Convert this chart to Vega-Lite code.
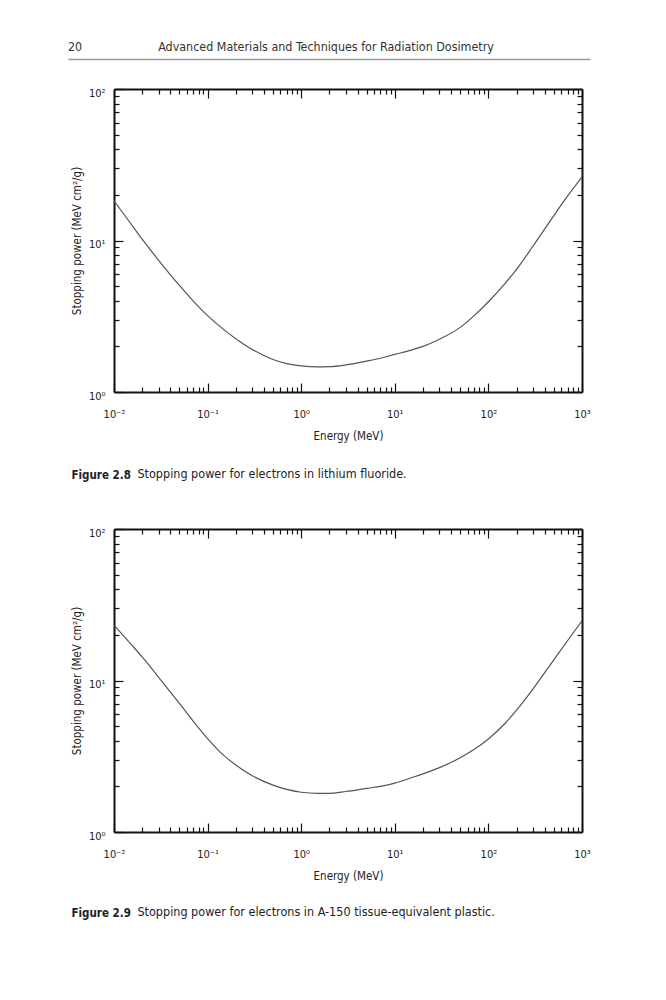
{
  "$schema": "https://vega.github.io/schema/vega-lite/v6.json",
  "padding": {"left": 68, "top": 41, "right": 5, "bottom": 5},
  "config": {
    "view": {"stroke": null},
    "font": "Liberation Sans Narrow, DejaVu Sans Condensed, Liberation Sans, sans-serif",
    "axis": {
      "grid": false,
      "domainColor": "#111",
      "domainWidth": 2,
      "tickColor": "#111",
      "tickWidth": 1.2,
      "labelFont": "Liberation Sans Narrow, DejaVu Sans Condensed, Liberation Sans, sans-serif",
      "labelFontSize": 11,
      "labelColor": "#222",
      "titleFont": "Liberation Sans Narrow, DejaVu Sans Condensed, Liberation Sans, sans-serif",
      "titleFontSize": 11.5,
      "titleFontWeight": "normal",
      "titleColor": "#222"
    },
    "title": {"font": "Liberation Sans Narrow, DejaVu Sans Condensed, Liberation Sans, sans-serif", "color": "#222", "fontSize": 12.5}
  },
  "datasets": {
    "header": [
      {"slot": "page", "text": "20"},
      {"slot": "running", "text": "Advanced Materials and Techniques for Radiation Dosimetry"}
    ],
    "lif": [
      {"E": 0.01, "S": 18.3}, {"E": 0.015, "S": 13.0}, {"E": 0.02, "S": 10.2}, {"E": 0.03, "S": 7.40},
      {"E": 0.05, "S": 5.05}, {"E": 0.07, "S": 4.00}, {"E": 0.1, "S": 3.19}, {"E": 0.15, "S": 2.57},
      {"E": 0.2, "S": 2.25}, {"E": 0.3, "S": 1.91}, {"E": 0.5, "S": 1.64}, {"E": 0.7, "S": 1.54},
      {"E": 1, "S": 1.486}, {"E": 1.5, "S": 1.466}, {"E": 2, "S": 1.47}, {"E": 3, "S": 1.51},
      {"E": 5, "S": 1.60}, {"E": 7, "S": 1.67}, {"E": 10, "S": 1.77}, {"E": 15, "S": 1.89},
      {"E": 20, "S": 2.00}, {"E": 30, "S": 2.23}, {"E": 50, "S": 2.67}, {"E": 70, "S": 3.18},
      {"E": 100, "S": 3.94}, {"E": 150, "S": 5.20}, {"E": 200, "S": 6.45}, {"E": 300, "S": 9.20},
      {"E": 500, "S": 14.6}, {"E": 700, "S": 19.6}, {"E": 1000, "S": 26.2}
    ],
    "a150": [
      {"E": 0.01, "S": 23.2}, {"E": 0.015, "S": 17.5}, {"E": 0.02, "S": 14.3}, {"E": 0.03, "S": 10.5},
      {"E": 0.05, "S": 7.06}, {"E": 0.07, "S": 5.40}, {"E": 0.1, "S": 4.14}, {"E": 0.15, "S": 3.19},
      {"E": 0.2, "S": 2.77}, {"E": 0.3, "S": 2.35}, {"E": 0.5, "S": 2.04}, {"E": 0.7, "S": 1.91},
      {"E": 1, "S": 1.83}, {"E": 1.5, "S": 1.80}, {"E": 2, "S": 1.80}, {"E": 3, "S": 1.85},
      {"E": 5, "S": 1.94}, {"E": 7, "S": 2.00}, {"E": 10, "S": 2.10}, {"E": 15, "S": 2.28},
      {"E": 20, "S": 2.42}, {"E": 30, "S": 2.66}, {"E": 50, "S": 3.09}, {"E": 70, "S": 3.50},
      {"E": 100, "S": 4.11}, {"E": 150, "S": 5.20}, {"E": 200, "S": 6.37}, {"E": 300, "S": 8.81},
      {"E": 500, "S": 13.7}, {"E": 700, "S": 18.3}, {"E": 1000, "S": 24.8}
    ]
  },
  "spacing": 28,
  "vconcat": [
    {
      "data": {"name": "header"},
      "width": 468,
      "height": 16,
      "layer": [
        {
          "transform": [{"filter": "datum.slot == 'page'"}],
          "mark": {"type": "text", "align": "left", "baseline": "alphabetic", "fontSize": 12.4, "color": "#333"},
          "encoding": {
            "x": {"field": "slot", "type": "nominal", "scale": {"type": "point", "domain": ["page", "running", "end"], "padding": 0, "range": [-46, 476]},
                  "axis": {"orient": "bottom", "labels": false, "ticks": false, "title": null, "domainColor": "#999", "domainWidth": 1.5}},
            "text": {"field": "text"}
          }
        },
        {
          "transform": [{"filter": "datum.slot == 'running'"}],
          "mark": {"type": "text", "align": "center", "baseline": "alphabetic", "fontSize": 12.4, "color": "#333", "dx": -3},
          "encoding": {
            "x": {"field": "slot", "type": "nominal", "scale": {"type": "point", "domain": ["page", "running", "end"], "padding": 0, "range": [-46, 476]},
                  "axis": {"orient": "bottom", "labels": false, "ticks": false, "title": null, "domainColor": "#999", "domainWidth": 1.5}},
            "text": {"field": "text"}
          }
        }
      ]
    },
    {
      "spacing": 46,
      "vconcat": [
        {
          "title": {"text": "Stopping power for electrons in lithium fluoride.", "orient": "bottom", "anchor": "start", "fontWeight": "normal", "offset": 0, "dx": 66, "dy": -13},
          "vconcat": [
            {
              "data": {"name": "lif"},
              "width": 468,
              "height": 303,
              "title": {"text": "Figure 2.8", "orient": "bottom", "anchor": "start", "fontWeight": "bold", "fontSize": 11.5, "offset": 28},
              "resolve": {"axis": {"x": "independent", "y": "independent"}},
              "layer": [
                {
                  "mark": {"type": "line", "color": "#555", "strokeWidth": 1.2, "interpolate": "monotone", "clip": true},
                  "encoding": {
                    "x": {"field": "E", "type": "quantitative", "scale": {"type": "log", "domain": [0.01, 1000], "nice": false},
                          "axis": {"orient": "bottom", "values": [0.01,0.02,0.03,0.04,0.05,0.06,0.07,0.08,0.09,0.1,0.2,0.3,0.4,0.5,0.6,0.7,0.8,0.9,1,2,3,4,5,6,7,8,9,10,20,30,40,50,60,70,80,90,100,200,300,400,500,600,700,800,900,1000],
                                   "tickSize": {"condition": {"test": "datum.value==0.01||datum.value==0.1||datum.value==1||datum.value==10||datum.value==100||datum.value==1000", "value": -9}, "value": -5},
                                   "labelExpr": "datum.value==0.01?'10⁻²':datum.value==0.1?'10⁻¹':datum.value==1?'10⁰':datum.value==10?'10¹':datum.value==100?'10²':datum.value==1000?'10³':''",
                                   "labelPadding": 25, "labelFlush": false, "labelOverlap": false, "labelBaseline": "top",
                                   "title": "Energy (MeV)", "titlePadding": 7}},
                    "y": {"field": "S", "type": "quantitative", "scale": {"type": "log", "domain": [1, 100], "nice": false},
                          "axis": {"orient": "left", "values": [1,2,3,4,5,6,7,8,9,10,20,30,40,50,60,70,80,90,100],
                                   "tickSize": {"condition": {"test": "datum.value==1||datum.value==10||datum.value==100", "value": -9}, "value": -5},
                                   "labelExpr": "datum.value==1?'10⁰':datum.value==10?'10¹':datum.value==100?'10²':''",
                                   "labelPadding": 18, "labelOverlap": false, "labelFlush": false, "labelOffset": 4, "labelBaseline": "middle",
                                   "title": "Stopping power (MeV cm²/g)", "titlePadding": 6}}
                  }
                },
                {
                  "mark": {"type": "line", "opacity": 0},
                  "encoding": {
                    "x": {"field": "E", "type": "quantitative", "scale": {"type": "log", "domain": [0.01, 1000], "nice": false},
                          "axis": {"orient": "top", "values": [0.01,0.02,0.03,0.04,0.05,0.06,0.07,0.08,0.09,0.1,0.2,0.3,0.4,0.5,0.6,0.7,0.8,0.9,1,2,3,4,5,6,7,8,9,10,20,30,40,50,60,70,80,90,100,200,300,400,500,600,700,800,900,1000],
                                   "tickSize": {"condition": {"test": "datum.value==0.01||datum.value==0.1||datum.value==1||datum.value==10||datum.value==100||datum.value==1000", "value": -9}, "value": -5},
                                   "labels": false, "title": null}},
                    "y": {"field": "S", "type": "quantitative", "scale": {"type": "log", "domain": [1, 100], "nice": false},
                          "axis": {"orient": "right", "values": [1,2,3,4,5,6,7,8,9,10,20,30,40,50,60,70,80,90,100],
                                   "tickSize": {"condition": {"test": "datum.value==1||datum.value==10||datum.value==100", "value": -9}, "value": -5},
                                   "labels": false, "title": null}}
                  }
                }
              ]
            }
          ]
        },
        {
          "title": {"text": "Stopping power for electrons in A-150 tissue-equivalent plastic.", "orient": "bottom", "anchor": "start", "fontWeight": "normal", "offset": 0, "dx": 66, "dy": -13},
          "vconcat": [
            {
              "data": {"name": "a150"},
              "width": 468,
              "height": 303,
              "title": {"text": "Figure 2.9", "orient": "bottom", "anchor": "start", "fontWeight": "bold", "fontSize": 11.5, "offset": 26},
              "resolve": {"axis": {"x": "independent", "y": "independent"}},
              "layer": [
                {
                  "mark": {"type": "line", "color": "#555", "strokeWidth": 1.2, "interpolate": "monotone", "clip": true},
                  "encoding": {
                    "x": {"field": "E", "type": "quantitative", "scale": {"type": "log", "domain": [0.01, 1000], "nice": false},
                          "axis": {"orient": "bottom", "values": [0.01,0.02,0.03,0.04,0.05,0.06,0.07,0.08,0.09,0.1,0.2,0.3,0.4,0.5,0.6,0.7,0.8,0.9,1,2,3,4,5,6,7,8,9,10,20,30,40,50,60,70,80,90,100,200,300,400,500,600,700,800,900,1000],
                                   "tickSize": {"condition": {"test": "datum.value==0.01||datum.value==0.1||datum.value==1||datum.value==10||datum.value==100||datum.value==1000", "value": -9}, "value": -5},
                                   "labelExpr": "datum.value==0.01?'10⁻²':datum.value==0.1?'10⁻¹':datum.value==1?'10⁰':datum.value==10?'10¹':datum.value==100?'10²':datum.value==1000?'10³':''",
                                   "labelPadding": 25, "labelFlush": false, "labelOverlap": false, "labelBaseline": "top",
                                   "title": "Energy (MeV)", "titlePadding": 7}},
                    "y": {"field": "S", "type": "quantitative", "scale": {"type": "log", "domain": [1, 100], "nice": false},
                          "axis": {"orient": "left", "values": [1,2,3,4,5,6,7,8,9,10,20,30,40,50,60,70,80,90,100],
                                   "tickSize": {"condition": {"test": "datum.value==1||datum.value==10||datum.value==100", "value": -9}, "value": -5},
                                   "labelExpr": "datum.value==1?'10⁰':datum.value==10?'10¹':datum.value==100?'10²':''",
                                   "labelPadding": 18, "labelOverlap": false, "labelFlush": false, "labelOffset": 4, "labelBaseline": "middle",
                                   "title": "Stopping power (MeV cm²/g)", "titlePadding": 6}}
                  }
                },
                {
                  "mark": {"type": "line", "opacity": 0},
                  "encoding": {
                    "x": {"field": "E", "type": "quantitative", "scale": {"type": "log", "domain": [0.01, 1000], "nice": false},
                          "axis": {"orient": "top", "values": [0.01,0.02,0.03,0.04,0.05,0.06,0.07,0.08,0.09,0.1,0.2,0.3,0.4,0.5,0.6,0.7,0.8,0.9,1,2,3,4,5,6,7,8,9,10,20,30,40,50,60,70,80,90,100,200,300,400,500,600,700,800,900,1000],
                                   "tickSize": {"condition": {"test": "datum.value==0.01||datum.value==0.1||datum.value==1||datum.value==10||datum.value==100||datum.value==1000", "value": -9}, "value": -5},
                                   "labels": false, "title": null}},
                    "y": {"field": "S", "type": "quantitative", "scale": {"type": "log", "domain": [1, 100], "nice": false},
                          "axis": {"orient": "right", "values": [1,2,3,4,5,6,7,8,9,10,20,30,40,50,60,70,80,90,100],
                                   "tickSize": {"condition": {"test": "datum.value==1||datum.value==10||datum.value==100", "value": -9}, "value": -5},
                                   "labels": false, "title": null}}
                  }
                }
              ]
            }
          ]
        }
      ]
    }
  ]
}
